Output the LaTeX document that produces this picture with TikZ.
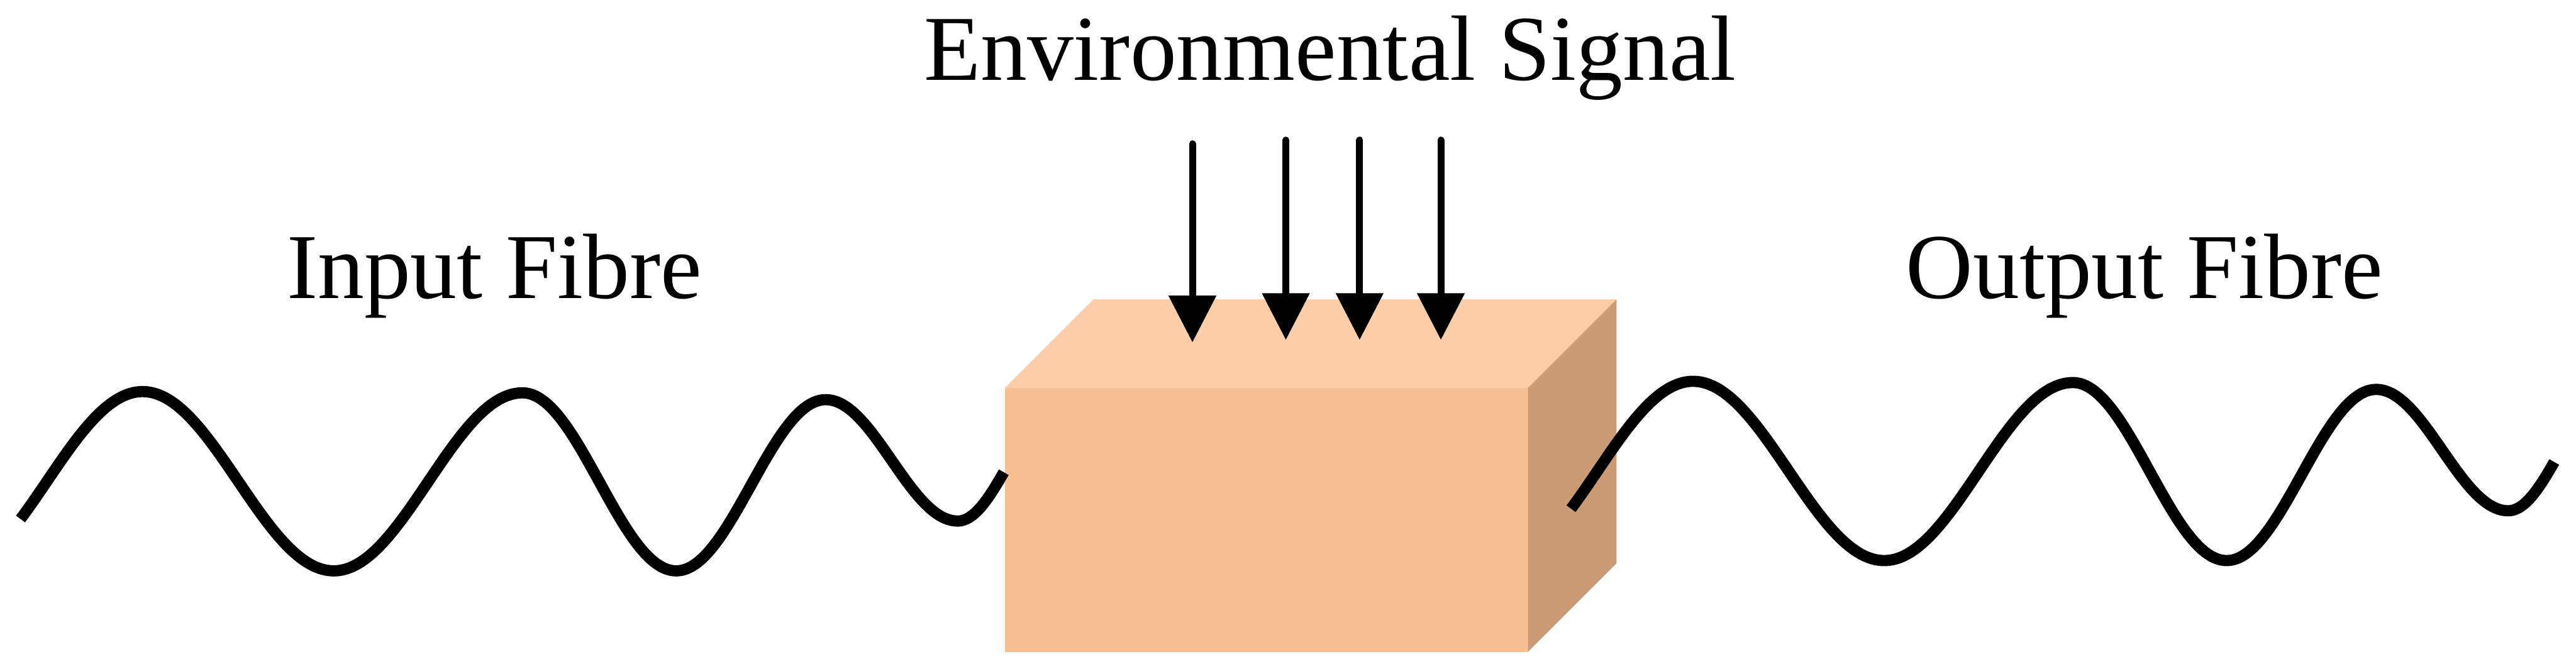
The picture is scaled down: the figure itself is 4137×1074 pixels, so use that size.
\documentclass[tikz,border=0pt]{standalone}
\usepackage{fontspec}
\setmainfont{Liberation Serif}
\usetikzlibrary{arrows.meta}
\definecolor{boxfront}{RGB}{248,192,146}
\definecolor{boxtop}{RGB}{251,205,168}
\definecolor{boxside}{RGB}{203,155,117}
\tikzset{
  fibrewave/.pic={
    \draw[fibre]
      plot[domain=33:229,samples=40] ({\x},{hw(\x,-78,917,229,629)})
      -- plot[domain=229:536,samples=50] ({\x},{hw(\x,229,629,536,917)})
      -- plot[domain=536:839,samples=50] ({\x},{hw(\x,536,917,839,631)})
      -- plot[domain=839:1086,samples=50] ({\x},{hw(\x,839,631,1086,917)})
      -- plot[domain=1086:1326,samples=50] ({\x},{hw(\x,1086,917,1326,642)})
      -- plot[domain=1326:1538,samples=50] ({\x},{hw(\x,1326,642,1538,837)})
      -- plot[domain=1538:1612,samples=30] ({\x},{hw(\x,1538,837,1703,650)});
  }
}
\begin{document}
\begin{tikzpicture}[x=0.01cm,y=-0.01cm,
  labeltext/.style={font=\fontsize{42.4pt}{50pt}\selectfont, inner sep=0pt, anchor=base},
  fibre/.style={line width=0.18cm, line join=round},
  signal/.style={line width=0.11cm, line cap=round, -{Triangle[width=0.74cm,length=0.75cm]}},
  declare function={hw(\t,\a,\b,\c,\d)=\b+(\d-\b)*(1-cos((\t-\a)/(\c-\a)*180))/2;}]
\useasboundingbox (0,0) rectangle (4137,1074);
% box
\fill[boxfront] (1614,623) rectangle (2454,1047);
\fill[boxtop] (1614,623) -- (1756,481) -- (2596,481) -- (2454,623) -- cycle;
\fill[boxside] (2454,623) -- (2596,481) -- (2596,905) -- (2454,1047) -- cycle;
% fibres
\pic at (0,0) {fibrewave};
\pic at (2490,-16.5) {fibrewave};
% signal arrows
\coordinate (s1) at (1915,231); \coordinate (e1) at (1915,550);
\coordinate (s2) at (2065,225); \coordinate (e2) at (2065,546);
\coordinate (s3) at (2183.5,225); \coordinate (e3) at (2183.5,546);
\coordinate (s4) at (2314,225); \coordinate (e4) at (2314,546);
\foreach \i in {1,...,4} \draw[signal] (s\i) -- (e\i);
% labels
\node[labeltext] (envsig) at (2136,129) {Environmental Signal};
\node[labeltext] (infibre) at (794,479) {Input Fibre};
\node[labeltext] (outfibre) at (3444,479) {Output Fibre};
\end{tikzpicture}
\end{document}
